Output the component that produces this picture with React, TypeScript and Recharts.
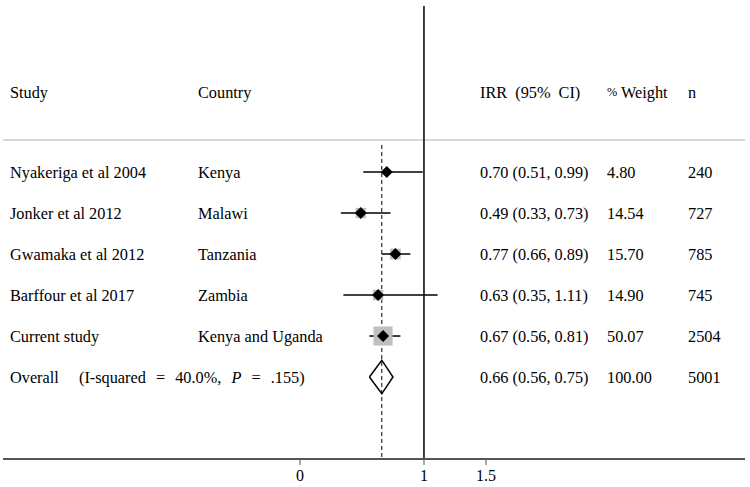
import React from "react";
import {
  ErrorBar,
  ReferenceLine,
  Scatter,
  ScatterChart,
  XAxis,
  YAxis,
  ZAxis,
} from "recharts";

const studies = [
  "Nyakeriga et al 2004",
  "Jonker et al 2012",
  "Gwamaka et al 2012",
  "Barffour et al 2017",
  "Current study",
];
const countries = ["Kenya", "Malawi", "Tanzania", "Zambia", "Kenya and Uganda"];
const irr = [0.7, 0.49, 0.77, 0.63, 0.67];
const lower = [0.51, 0.33, 0.66, 0.35, 0.56];
const upper = [0.99, 0.73, 0.89, 1.11, 0.81];
const weights = [4.8, 14.54, 15.7, 14.9, 50.07];
const sizes = [240, 727, 785, 745, 2504];

const overallIrr = 0.66;
const overallLower = 0.56;
const overallUpper = 0.75;
const overallWeight = 100.0;
const overallN = 5001;
const overallHet = "Overall  (I-squared = 40.0%, ";
const overallP = ".155";

const xTicks = [0, 1, 1.5];

const FONT = "'Liberation Serif', 'Times New Roman', serif";
const FS = 16.3;
const COL = { study: 10, country: 198, irr: 480, weight: 607, n: 688 };

const HEADER_Y = -1.95;
const SEP_Y = -0.78;
const DASH_TOP = -0.66;
const OVERALL_Y = studies.length;
const DIAMOND_H = 0.41;

const fmt = (v: number) => v.toFixed(2);

const rows = studies.map((s, i) => ({
  x: irr[i],
  y: i,
  study: s,
  country: countries[i],
  weight: weights[i],
  err: [irr[i] - lower[i], upper[i] - irr[i]],
  irrText: `${fmt(irr[i])} (${fmt(lower[i])}, ${fmt(upper[i])})`,
  weightText: fmt(weights[i]),
  nText: String(sizes[i]),
}));

const overallRow = [
  {
    x: overallIrr,
    y: OVERALL_Y,
    irrText: `${fmt(overallIrr)} (${fmt(overallLower)}, ${fmt(overallUpper)})`,
    weightText: fmt(overallWeight),
    nText: String(overallN),
  },
];

const diamond = [
  { x: overallLower, y: OVERALL_Y },
  { x: overallIrr, y: OVERALL_Y - DIAMOND_H },
  { x: overallUpper, y: OVERALL_Y },
  { x: overallIrr, y: OVERALL_Y + DIAMOND_H },
  { x: overallLower, y: OVERALL_Y },
];

const headerRow = [{ x: 0, y: HEADER_Y }];

const txt = { fontFamily: FONT, fontSize: FS, fill: "#000" };

const Empty = () => <g />;

const Marker = (p: any) => {
  const r = 6;
  const { cx, cy } = p;
  return (
    <polygon
      points={`${cx - r},${cy} ${cx},${cy - r} ${cx + r},${cy} ${cx},${cy + r}`}
      fill="#000"
    />
  );
};

const Cell = ({ x, y, children, ...rest }: any) => (
  <text x={x} y={y} dominantBaseline="central" xmlSpace="preserve" {...txt} {...rest}>
    {children}
  </text>
);

const RowText = (p: any) => {
  const { cy, payload } = p;
  return (
    <g>
      <Cell x={COL.study} y={cy}>{payload.study}</Cell>
      <Cell x={COL.country} y={cy}>{payload.country}</Cell>
      <Cell x={COL.irr} y={cy}>{payload.irrText}</Cell>
      <Cell x={COL.weight} y={cy}>{payload.weightText}</Cell>
      <Cell x={COL.n} y={cy}>{payload.nText}</Cell>
    </g>
  );
};

const OverallText = (p: any) => {
  const { cy, payload } = p;
  return (
    <g>
      <Cell x={COL.study} y={cy} style={{ wordSpacing: 6 }}>
        {overallHet}
        <tspan fontStyle="italic">P</tspan>
        {` = ${overallP})`}
      </Cell>
      <Cell x={COL.irr} y={cy}>{payload.irrText}</Cell>
      <Cell x={COL.weight} y={cy}>{payload.weightText}</Cell>
      <Cell x={COL.n} y={cy}>{payload.nText}</Cell>
    </g>
  );
};

const HeaderText = (p: any) => {
  const { cy } = p;
  return (
    <g>
      <Cell x={COL.study} y={cy}>Study</Cell>
      <Cell x={COL.country} y={cy}>Country</Cell>
      <Cell x={COL.irr} y={cy} style={{ wordSpacing: 4 }}>
        IRR (95% CI)
      </Cell>
      <Cell x={COL.weight} y={cy}>
        <tspan fontSize={FS - 4}>%</tspan> Weight
      </Cell>
      <Cell x={COL.n} y={cy}>n</Cell>
    </g>
  );
};

const Tick = (p: any) => {
  const { x, y, payload } = p;
  return (
    <text x={x} y={y + 8} textAnchor="middle" dominantBaseline="central" fontFamily={FONT} fontSize={16} fill="#000">
      {payload.value}
    </text>
  );
};

export default function App() {
  return (
    <div style={{ position: "absolute", left: 0, top: 0, width: 750, height: 487, background: "#fff" }}>
      <ScatterChart
        width={750}
        height={487}
        margin={{ top: 6, right: 5, left: 3, bottom: 0 }}
      >
        <XAxis
          type="number"
          dataKey="x"
          domain={[-2.395, 3.589]}
          allowDataOverflow
          ticks={xTicks}
          height={28}
          axisLine={{ stroke: "#555", strokeWidth: 2 }}
          tickLine={{ stroke: "#555" }}
          tickSize={6}
          tick={<Tick />}
        />
        <YAxis
          type="number"
          dataKey="y"
          domain={[-4.05, 7]}
          allowDataOverflow
          reversed
          hide
        />
        <ZAxis type="number" dataKey="weight" domain={[0, 100]} range={[0, 729]} />
        <ReferenceLine y={SEP_Y} stroke="#c8c8c8" strokeWidth={1.5} />
        <ReferenceLine x={1} stroke="#000" strokeWidth={1.5} />
        <ReferenceLine
          segment={[
            { x: overallIrr, y: DASH_TOP },
            { x: overallIrr, y: 7 },
          ]}
          stroke="#000"
          strokeDasharray="4 3"
        />
        <Scatter data={headerRow} shape={HeaderText} isAnimationActive={false} />
        <Scatter data={rows} shape={RowText} isAnimationActive={false} />
        <Scatter data={overallRow} shape={OverallText} isAnimationActive={false} />
        <Scatter data={rows} shape="square" fill="#bfbfbf" isAnimationActive={false} />
        <Scatter data={rows} shape={Empty} isAnimationActive={false}>
          <ErrorBar
            dataKey="err"
            direction="x"
            width={0}
            stroke="#000"
            strokeWidth={1.5}
            isAnimationActive={false}
          />
        </Scatter>
        <Scatter data={rows} shape={Marker} isAnimationActive={false} />
        <Scatter
          data={diamond}
          shape={Empty}
          line={{ stroke: "#000", strokeWidth: 1.5 }}
          lineType="joint"
          isAnimationActive={false}
        />
      </ScatterChart>
    </div>
  );
}
